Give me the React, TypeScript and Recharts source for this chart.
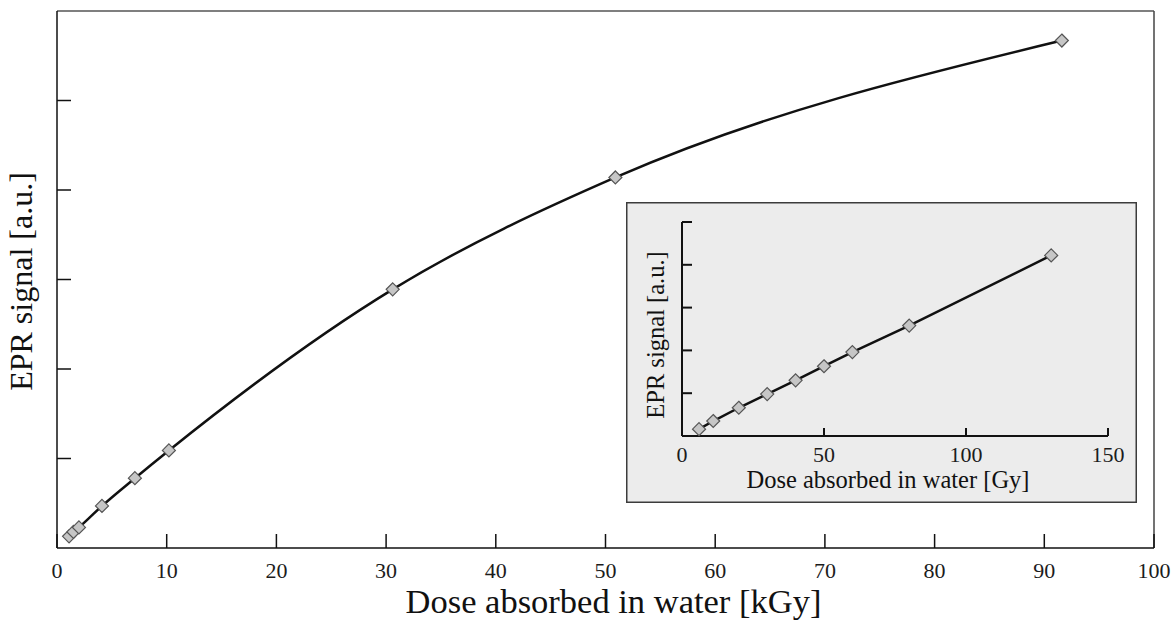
import { LineChart, Line, XAxis, YAxis, ReferenceLine } from "recharts";

const FONT = '"Liberation Serif", "Times New Roman", serif';

// main plot: dose in kGy vs EPR signal (arbitrary units)
const mainDose = [1.1, 1.5, 2.0, 4.1, 7.1, 10.2, 30.6, 50.9, 91.6];
const mainSignal = [0.13, 0.18, 0.23, 0.47, 0.78, 1.09, 2.89, 4.14, 5.67];
const mainXTicks = [0, 10, 20, 30, 40, 50, 60, 70, 80, 90, 100];
const mainYTicks = [1, 2, 3, 4, 5];

// inset: low dose range in Gy
const insetDose = [6, 11, 20, 30, 40, 50, 60, 80, 130];
const insetSignal = [0.16, 0.35, 0.66, 0.98, 1.3, 1.63, 1.96, 2.58, 4.22];
const insetXTicks = [0, 50, 100, 150];
const insetYTicks = [1, 2, 3, 4, 5];

const mainData = mainDose.map((d, i) => ({ dose: d, signal: mainSignal[i] }));
const insetData = insetDose.map((d, i) => ({ dose: d, signal: insetSignal[i] }));

function Diamond(props: any) {
  const { cx, cy, index } = props;
  if (cx == null || cy == null) return <g key={`dm-${index}`} />;
  const r = 6.5;
  return (
    <polygon
      key={`dm-${index}`}
      points={`${cx},${cy - r} ${cx + r},${cy} ${cx},${cy + r} ${cx - r},${cy}`}
      fill="#c6c6c6"
      stroke="#555"
      strokeWidth={1.2}
    />
  );
}

// serif tick label, top of glyphs at y
function SerifTick(props: any) {
  const { x, y, payload } = props;
  return (
    <text
      x={x}
      y={y}
      dy="0.71em"
      textAnchor="middle"
      fontFamily={FONT}
      fontSize={22}
      fill="#1c1c1c"
    >
      {payload.value}
    </text>
  );
}

// rotated y title, x given in chart coords
const vTitle = (text: string, x: number, dy: number, size: number) => (props: any) => {
  const vb = props.viewBox || { y: 0, height: 0 };
  const cy = vb.y + vb.height / 2 + dy;
  return (
    <text
      x={x}
      y={cy}
      transform={`rotate(-90, ${x}, ${cy})`}
      textAnchor="middle"
      dominantBaseline="central"
      fontFamily={FONT}
      fontSize={size}
      fill="#111"
    >
      {text}
    </text>
  );
};

export default function App() {
  return (
    <div
      style={{
        position: "absolute",
        left: 0,
        top: 0,
        width: 1174,
        height: 621,
        background: "#fff",
        fontFamily: FONT,
      }}
    >
      <LineChart
        width={1174}
        height={621}
        data={mainData}
        margin={{ top: 11, right: 20, bottom: 0, left: 0 }}
      >
        <XAxis
          type="number"
          dataKey="dose"
          domain={[0, 100]}
          ticks={mainXTicks}
          height={73}
          stroke="#111"
          strokeWidth={1.5}
          tickSize={-14}
          tickMargin={28}
          tick={SerifTick}
          label={{
            value: "Dose absorbed in water [kGy]",
            position: "insideBottom",
            offset: 8,
            dx: 8,
            fontSize: 34.5,
            fill: "#111",
            fontFamily: FONT,
          }}
        />
        <YAxis
          type="number"
          domain={[0, 6]}
          ticks={mainYTicks}
          width={57}
          stroke="#111"
          strokeWidth={1.5}
          tickSize={-14}
          tickFormatter={() => ""}
          label={{ content: vTitle("EPR signal [a.u.]", 21, 2, 32) }}
        />
        <ReferenceLine y={6} stroke="#555" strokeWidth={1.5} />
        <ReferenceLine x={100} stroke="#444" strokeWidth={1.5} />
        <Line
          type="monotone"
          dataKey="signal"
          stroke="#111"
          strokeWidth={2.5}
          dot={Diamond}
          activeDot={false}
          isAnimationActive={false}
        />
      </LineChart>

      <div
        style={{
          position: "absolute",
          left: 626,
          top: 202,
          width: 511,
          height: 301,
          background: "#ececec",
          boxShadow: "inset 0 0 0 1.5px #3c3c3c",
        }}
      >
        <LineChart
          width={511}
          height={301}
          data={insetData}
          margin={{ top: 20, right: 29, bottom: 0, left: 0 }}
        >
          <XAxis
            type="number"
            dataKey="dose"
            domain={[0, 150]}
            ticks={insetXTicks}
            height={67}
            stroke="#111"
            strokeWidth={2}
            tickSize={-8}
            tickMargin={18}
            tick={SerifTick}
            label={{
              value: "Dose absorbed in water [Gy]",
              position: "insideBottom",
              offset: 15,
              dx: -7,
              fontSize: 24.5,
              fill: "#111",
              fontFamily: FONT,
            }}
          />
          <YAxis
            type="number"
            domain={[0, 5]}
            ticks={insetYTicks}
            width={56}
            stroke="#111"
            strokeWidth={2}
            tickSize={-10}
            tickFormatter={() => ""}
            label={{ content: vTitle("EPR signal [a.u.]", 29, 6, 24.5) }}
          />
          <Line
            type="linear"
            dataKey="signal"
            stroke="#111"
            strokeWidth={2.5}
            dot={Diamond}
            activeDot={false}
            isAnimationActive={false}
          />
        </LineChart>
      </div>
    </div>
  );
}
